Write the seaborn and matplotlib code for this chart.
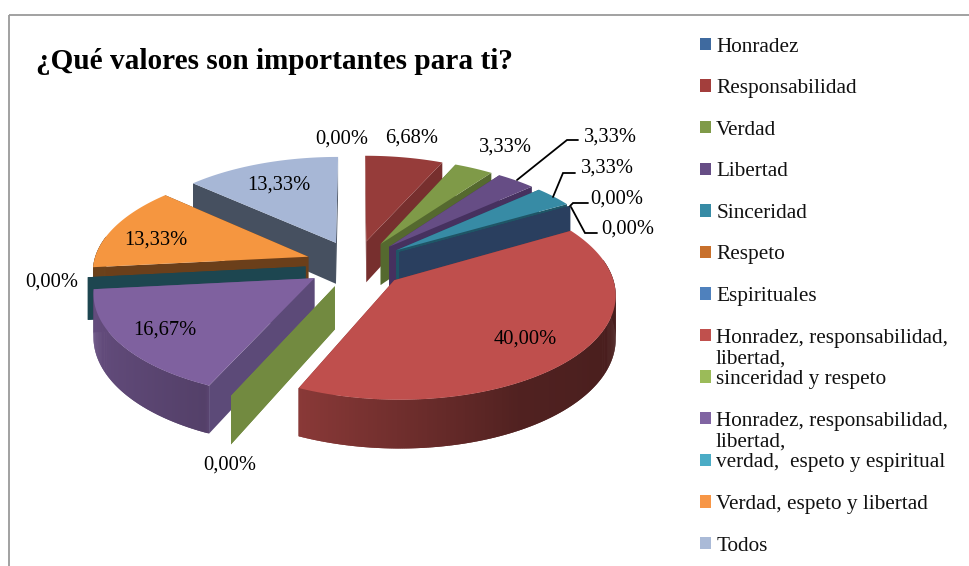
import numpy as np
import matplotlib
matplotlib.use("Agg")
import matplotlib.pyplot as plt
from matplotlib.patches import Polygon, Patch, Rectangle
from matplotlib.colors import to_rgb
import seaborn as sns

# ---------- data ----------
categories = ["Honradez", "Responsabilidad", "Verdad", "Libertad", "Sinceridad", "Respeto",
              "Espirituales", "Honradez, responsabilidad,", "sinceridad y respeto",
              "Honradez, responsabilidad,", "verdad,  espeto y espiritual",
              "Verdad, espeto y libertad", "Todos"]
values = [0.00, 6.68, 3.33, 3.33, 3.33, 0.00, 0.00, 40.00, 0.00, 16.67, 0.00, 13.33, 13.33]
legend_colors = ["#3f6a9f", "#a33e3c", "#7f9a48", "#664d85", "#378ba5", "#c8702c", "#4f81bd",
                 "#c0504d", "#9bbb59", "#8064a2", "#4bacc6", "#f79646", "#aabad7"]
top_colors = ["#3f6a9f", "#963c3a", "#7f9a48", "#664d85", "#378ba5", "#c8702c", "#4f81bd",
              "#bf4f4d", "#9bbb59", "#7f619f", "#4bacc6", "#f59640", "#a7b7d6"]
face_colors = ["#2b4060", "#772f2e", "#55692f", "#46315f", "#1f5566", "#2b4060", "#2a3f5f",
               "#7a3230", "#728a40", "#5c4a78", "#1d4650", "#6b3f1a", "#465060"]
title = "¿Qué valores son importantes para ti?"

# ---------- layout ----------
W, H = 969, 566
CX, CY, A, B, P, EXPLODE, DEPTH = 356, 264, 215, 101, 0.12, 0.235, 42
label_pos = [(342, 139), (412, 138), (505, 147), (610, 137), (607, 168), (617, 199), (628, 229),
             (525, 339), (230, 465), (165, 330), (52, 282), (156, 240), (279, 185)]
leaders = [[(517, 180), (567, 140), (578, 140)], [(553, 197), (563, 173), (575, 173)],
           [(570, 206), (573, 203), (588, 203)], [(571, 207), (585, 233), (597, 233)]]

sns.set_theme(style="white")
plt.rcParams["font.family"] = ["Liberation Serif", "DejaVu Serif"]
fig = plt.figure(figsize=(W / 100, H / 100), dpi=100, facecolor="white")
ax = fig.add_axes([0, 0, 1, 1])
ax.set_xlim(0, W)
ax.set_ylim(H, 0)
ax.axis("off")
palette = sns.color_palette(top_colors)


def project(x, y, z=0.0):
    s = 1 / (1 + P * y)
    return CX + x * A * s, CY - y * B * s + z * DEPTH * s


def rim_shade(theta):
    # brightness of the outer wall by clockwise angle in degrees
    return np.interp(theta, [60, 110, 150, 204, 205, 225, 263, 264, 300],
                     [0.36, 0.38, 0.42, 0.72, 0.66, 0.72, 0.82, 0.44, 0.44])


total = sum(values)
edges = np.concatenate([[0], np.cumsum(values)]) / total * 360
order = sorted(range(len(values)),
               key=lambda i: -np.cos(np.radians((edges[i] + edges[i + 1]) / 2)))

for n, i in enumerate(order):
    t0, t1 = edges[i], edges[i + 1]
    mid = np.radians((t0 + t1) / 2)
    ox, oy = EXPLODE * np.sin(mid), EXPLODE * np.cos(mid)
    th = np.radians(np.linspace(t0, t1, max(2, int(t1 - t0) * 2 + 2)))
    rx, ry = ox + np.sin(th), oy + np.cos(th)
    z = 10 + n
    # radial faces
    for r in (th[0], th[-1]):
        ex, ey = ox + np.sin(r), oy + np.cos(r)
        quad = [project(ox, oy), project(ex, ey), project(ex, ey, 1), project(ox, oy, 1)]
        ax.add_patch(Polygon(quad, closed=True, fc=face_colors[i], ec="none", zorder=z))
    # outer wall, front part only; each strip overlaps the next to avoid seams
    base = np.array(to_rgb(palette[i]))
    for k in range(len(th) - 1):
        if np.cos((th[k] + th[k + 1]) / 2) < 0.2 and values[i] > 0:
            deg = np.degrees((th[k] + th[k + 1]) / 2)
            m = min(k + 2, len(th) - 1)
            idx = range(k, m + 1)
            quad = [project(rx[j], ry[j]) for j in idx] + [project(rx[j], ry[j], 1) for j in reversed(idx)]
            c = np.clip(base * rim_shade(deg), 0, 1)
            ax.add_patch(Polygon(quad, closed=True, fc=c, ec="none", zorder=z + 0.2 + k * 1e-4))
    # top
    if values[i] > 0:
        pts = [project(ox, oy)] + [project(a, b) for a, b in zip(rx, ry)]
        ax.add_patch(Polygon(pts, closed=True, fc=palette[i], ec="none", zorder=z + 0.4))

# value labels
for v, (x, y) in zip(values, label_pos):
    ax.text(x, y, f"{v:.2f}%".replace(".", ","), ha="center", va="center",
            fontsize=14.8, color="black", zorder=50)
for line in leaders:
    xs, ys = zip(*line)
    ax.plot(xs, ys, color="black", lw=1.3, zorder=49, solid_joinstyle="miter")

# title and frame
ax.text(36, 69, title, fontsize=21.1, fontweight="bold", color="black", ha="left", va="baseline")
ax.add_patch(Rectangle((9, 15), W + 20, H + 20, fc="none", ec="#9a9a9a", lw=1.3, zorder=1))

# legend
handles = [Patch(fc=c, ec="none") for c in legend_colors]
ax.legend(handles, categories, loc="upper left", bbox_to_anchor=(700 / W, 1 - 37.5 / H),
          bbox_transform=fig.transFigure, frameon=False, fontsize=15.3,
          handlelength=0.52, handleheight=0.52, handletextpad=0.24, borderpad=0, borderaxespad=0,
          labelspacing=1.063, labelcolor="#111111")
for y in (359, 442):
    ax.text(716, y, "libertad,", fontsize=15.3, color="#111111", ha="left", va="center")

fig.savefig("out.png", dpi=100, facecolor="white")
